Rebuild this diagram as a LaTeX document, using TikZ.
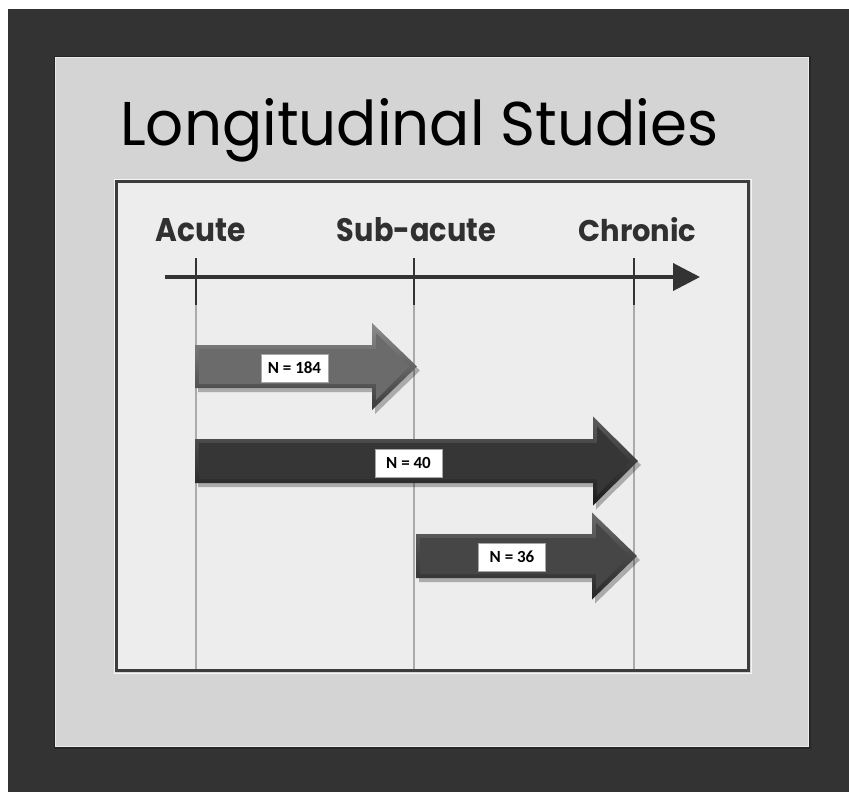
\documentclass[tikz,border=0pt]{standalone}
\usepackage{fontspec}
\setmainfont{Poppins}
\newfontfamily\nfont{Carlito}
\usetikzlibrary{arrows.meta,shadings}
\definecolor{frame}{HTML}{333333}
\definecolor{panel}{HTML}{D4D4D4}
\definecolor{inner}{HTML}{EDEDED}
\definecolor{ibord}{HTML}{3C3C3C}
\definecolor{grid}{HTML}{ABABAB}
\definecolor{axis}{HTML}{333333}
\definecolor{lab}{HTML}{303030}
\definecolor{aAbase}{HTML}{6B6B6B}
\definecolor{aAlight}{HTML}{8C8C8C}
\definecolor{aAdark}{HTML}{3C3C3C}
\definecolor{aBbase}{HTML}{363636}
\definecolor{aBlight}{HTML}{5C5C5C}
\definecolor{aBdark}{HTML}{1C1C1C}
\definecolor{aCbase}{HTML}{464646}
\definecolor{aClight}{HTML}{6A6A6A}
\definecolor{aCdark}{HTML}{262626}
\tikzset{
  gridline/.style={draw=grid,line width=1.3pt},
  tickline/.style={draw=axis,line width=2pt},
  phase/.style={anchor=base,text=lab,inner sep=0pt,font=\bfseries},
  nbox/.style={fill=white,draw=black!35,line width=0.5pt,inner sep=0pt,
    minimum width=67pt,minimum height=28pt,font=\nfont\bfseries\fontsize{17}{18}\selectfont,text=black},
}
% #1 left x, #2 centre y, #3 shaft half height, #4 head x, #5 head half height, #6 tip x, #7 base, #8 light, #9 dark
\newcommand\fatarrow[9]{%
  \fill[black,opacity=.28] ({#1+3},{#2-#3+4}) -- ({#4+3},{#2-#3+4}) -- ({#4+3},{#2-#5+4}) -- ({#6+3},{#2+4}) -- ({#4+3},{#2+#5+4}) -- ({#4+3},{#2+#3+4}) -- ({#1+3},{#2+#3+4}) -- cycle;
  \shade[top color=#8,bottom color=#9] (#1,{#2-#3}) -- (#4,{#2-#3}) -- (#4,{#2-#5}) -- (#6,#2) -- (#4,{#2+#5}) -- (#4,{#2+#3}) -- (#1,{#2+#3}) -- cycle;
  \fill[#7] ({#1+4},{#2-#3+4}) -- ({#4+4},{#2-#3+4}) -- ({#4+4},{#2-#5+10}) -- ({#6-8},#2) -- ({#4+4},{#2+#5-10}) -- ({#4+4},{#2+#3-4}) -- ({#1+4},{#2+#3-4}) -- cycle;
}
\begin{document}
\begin{tikzpicture}[x=1pt,y=-1pt]
\useasboundingbox (0,0) rectangle (849,792);
\fill[white] (0,0) rectangle (849,792);
% dark frame
\fill[frame] (8,9) rectangle (849,792);
% light panel
\fill[black!85] (54,56) rectangle (811,749);
\fill[panel] (55,57) rectangle (809,747);
\draw[white!92!black,line width=1pt] (55.5,57.5) rectangle (808.5,746.5);
% title
\node[anchor=base west,inner sep=0pt,text=black] (title) at (120,145)
  {\resizebox{598pt}{47pt}{Longitudinal Studies}};
% inner box
\draw[white!96!black,line width=1pt] (114,179) rectangle (751,673);
\filldraw[fill=inner,draw=ibord,line width=2.5pt] (116.5,181.5) rectangle (748.5,670.5);
% phase positions
\coordinate (tA) at (196,258);
\coordinate (tS) at (414,258);
\coordinate (tC) at (634,258);
\coordinate (bA) at (196,669);
\coordinate (bS) at (414,669);
\coordinate (bC) at (634,669);
\coordinate (mA) at (196,305);
\coordinate (mS) at (414,305);
\coordinate (mC) at (634,305);
% grid lines
\draw[gridline] (mA) -- (bA);
\draw[gridline] (mS) -- (bS);
\draw[gridline] (mC) -- (bC);
% axis
\coordinate (ax0) at (165,277);
\coordinate (ax1) at (700,277);
\draw[draw=axis,line width=4pt,-{Triangle[length=27pt,width=27pt]}] (ax0) -- (ax1);
\draw[tickline] (tA) -- (mA);
\draw[tickline] (tS) -- (mS);
\draw[tickline] (tC) -- (mC);
% phase labels
\node[phase] (acute) at (201,241) {\resizebox{90pt}{23pt}{Acute}};
\node[phase] (subacute) at (416.5,241) {\resizebox{159pt}{24pt}{Sub-acute}};
\node[phase] (chronic) at (637.5,241) {\resizebox{118pt}{24pt}{Chronic}};
% study arrows
\fatarrow{195}{366.5}{21.5}{372}{43.5}{417}{aAbase}{aAlight}{aAdark}
\fatarrow{195}{461}{22}{593}{44.5}{638}{aBbase}{aBlight}{aBdark}
\fatarrow{416}{556}{22}{592}{43.5}{637}{aCbase}{aClight}{aCdark}
% labels
\node[nbox] (n184) at (294.5,368) {N = 184};
\node[nbox] (n40) at (408.5,463) {N = 40};
\node[nbox] (n36) at (512,557) {N = 36};
\end{tikzpicture}
\end{document}
